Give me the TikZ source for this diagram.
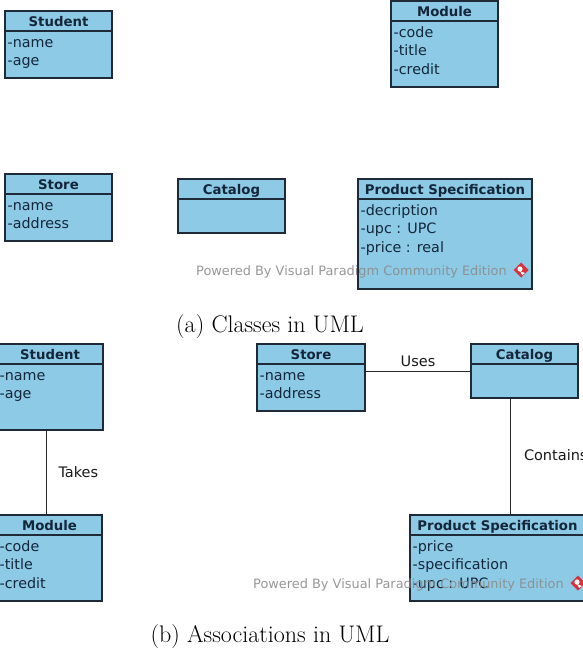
\documentclass[tikz,border=0pt]{standalone}
\usepackage{fontspec}
\newfontfamily\umlfont{DejaVu Sans}
\definecolor{classfill}{HTML}{8CCAE6}
\definecolor{classedge}{HTML}{1E2A38}
\definecolor{classtext}{HTML}{14263A}
\definecolor{markgray}{HTML}{8C8C8C}
\definecolor{markred}{HTML}{D8323C}
\tikzset{
  umlbox/.style={draw=classedge, fill=classfill, line width=1.4pt, inner sep=0pt, outer sep=0pt},
  umlsep/.style={draw=classedge, line width=1.2pt},
  umltitle/.style={font=\umlfont\bfseries\fontsize{13.3}{15}\selectfont, text=classtext, inner sep=0pt},
  umlattr/.style={font=\umlfont\fontsize{14.3}{16}\selectfont, text=classtext, inner sep=0pt},
  assoc/.style={draw=black!85, line width=1pt},
  assoclabel/.style={font=\umlfont\fontsize{14.5}{16}\selectfont, text=black!90, inner sep=0pt},
  watermark/.style={font=\umlfont\fontsize{12.9}{15}\selectfont, text=markgray, opacity=0.9, inner sep=0pt, anchor=base west},
  caption/.style={font=\fontsize{24}{28}\selectfont, inner sep=0pt, anchor=base}
}
% a UML class: name, left, top, width, height, title, attribute list
\newcommand\umlclass[7]{%
  \node[umlbox, minimum width=#4pt, minimum height=#5pt, anchor=north west] (#1) at (#2,#3) {};
  \draw[umlsep] ([yshift=-20pt]#1.north west) -- ([yshift=-20pt]#1.north east);
  \node[umltitle, anchor=base] at ([yshift=-15.5pt]#1.north) {#6};
  \foreach \a [count=\i] in {#7} {
    \node[umlattr, anchor=base west] at ([shift={(2.5,{36+18.5*(\i-1)})}]#1.north west) {\a};
  }%
}
% Visual Paradigm logo mark
\newcommand\vpmark[1]{%
  \fill[markred] (#1) +(0,-7.5) -- +(7.5,0) -- +(0,7.5) -- +(-7.5,0) -- cycle;
  \fill[white] ([shift={(-1,-1)}]#1) circle (2.6);
  \fill[white] (#1) +(-1,1) -- +(4,3) -- +(1,5) -- cycle;
}
\begin{document}
\begin{tikzpicture}[x=1pt, y=-1pt]
\useasboundingbox (0,0) rectangle (583,651);

% ---- (a) classes ----
\umlclass{stuA}{5}{11}{107}{67}{Student}{-name,-age}
\umlclass{modA}{391}{1}{107}{86}{Module}{-code,-title,-credit}
\umlclass{stoA}{5}{174}{107}{67}{Store}{-name,-address}
\umlclass{catA}{178}{179}{107}{54}{Catalog}{}
\umlclass{psA}{358}{179}{174}{110}{Product Specification}{-decription,-upc : UPC,-price : real}
\node[watermark] (wmA) at (196,275) {Powered By Visual Paradigm Community Edition};
\coordinate (logoA) at (521,270);
\vpmark{logoA}
\node[caption] (capA) at (270,332) {(a) Classes in UML};

% ---- (b) associations ----
\umlclass{stuB}{-3}{344}{106}{86}{Student}{-name,-age}
\umlclass{modB}{-3}{515}{105}{86}{Module}{-code,-title,-credit}
\umlclass{stoB}{257}{344}{108}{67}{Store}{-name,-address}
\umlclass{catB}{471}{344}{107}{54}{Catalog}{}
\umlclass{psB}{410}{515}{175}{86}{Product Specification}{-price,-specification,-upc : UPC}

\draw[assoc] ([xshift=-4pt]stuB.south) -- ([xshift=-4pt]stuB.south |- modB.north)
  node[assoclabel, midway, anchor=base west, xshift=12pt, yshift=-5pt] {Takes};
\draw[assoc] (catB.west -| stoB.east) -- (catB.west)
  node[assoclabel, midway, anchor=base, yshift=5pt] {Uses};
\draw[assoc] ([xshift=-14pt]catB.south) -- ([xshift=-14pt]catB.south |- psB.north)
  node[assoclabel, midway, anchor=base west, xshift=13pt, yshift=-4pt] {Contains};

\node[watermark] (wmB) at (253,588) {Powered By Visual Paradigm Community Edition};
\coordinate (logoB) at (578,583);
\vpmark{logoB}
\node[caption] (capB) at (270,642) {(b) Associations in UML};
\end{tikzpicture}
\end{document}
